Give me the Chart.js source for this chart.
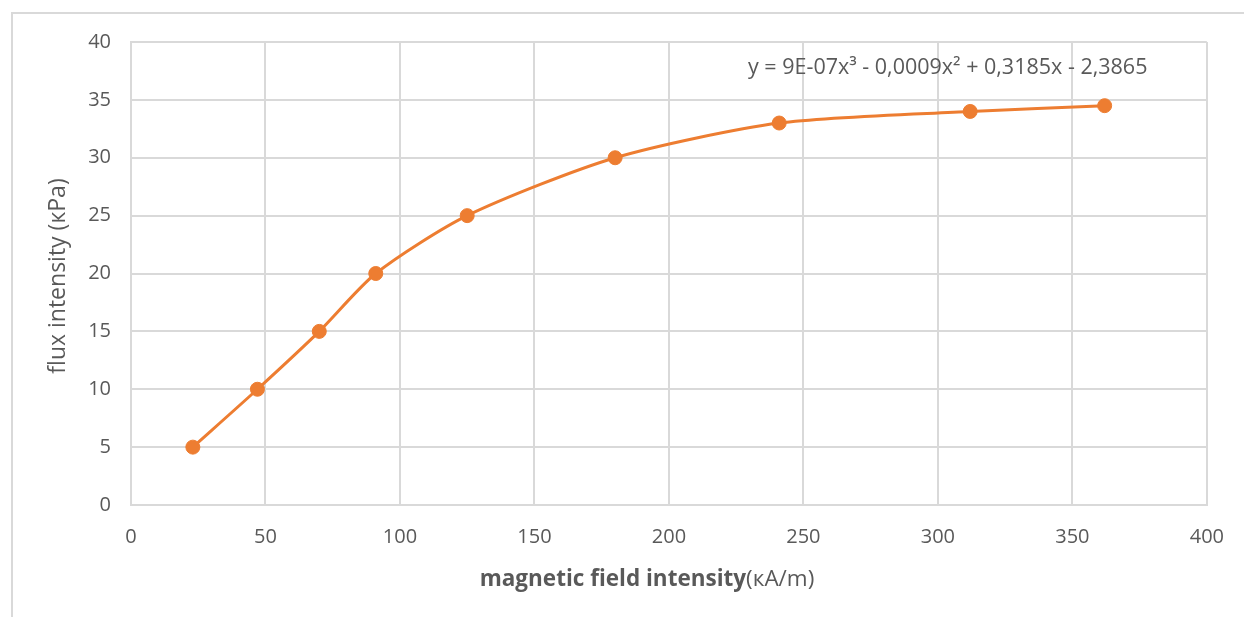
<!DOCTYPE html>
<html>
<head>
<meta charset="utf-8">
<script src="https://cdn.jsdelivr.net/npm/chart.js@4.4.1/dist/chart.umd.min.js"></script>
<style>
  html, body { margin: 0; padding: 0; background: #fff; }
  #wrap { width: 1244px; height: 617px; }
</style>
</head>
<body>
<div id="wrap"><canvas id="chart" width="1244" height="617"></canvas></div>
<script>
// field intensity (kA/m) vs flux intensity (kPa)
const fieldValues = [23, 47, 70, 91, 125, 180, 241, 312, 362];
const fluxValues = [5, 10, 15, 20, 25, 30, 33, 34, 34.5];
const xTicks = [0, 50, 100, 150, 200, 250, 300, 350, 400];
const yTicks = [0, 5, 10, 15, 20, 25, 30, 35, 40];
const equationText = 'y = 9E-07x³ - 0,0009x² + 0,3185x - 2,3865';
const xTitleBold = 'magnetic field intensity';
const xTitleRest = '(кA/m)';
const yTitle = 'flux intensity (кPa)';

const ORANGE = '#ED7D31';
const GRID = '#d9d9d9';
const TEXT = '#595959';
const FONT = '"Open Sans", sans-serif';

const points = fieldValues.map((x, i) => ({ x: x, y: fluxValues[i] }));

// frame, titles and equation label
const decorations = {
    id: 'decorations',
    beforeDraw(chart) {
        const ctx = chart.ctx;
        ctx.save();
        ctx.strokeStyle = GRID;
        ctx.lineWidth = 2;
        ctx.strokeRect(12, 13, 1244, 617);
        ctx.restore();
    },
    afterDraw(chart) {
        const ctx = chart.ctx;
        ctx.save();
        ctx.fillStyle = TEXT;
        ctx.textBaseline = 'middle';

        // x title, bold part + normal part
        ctx.font = 'bold 22.5px ' + FONT;
        const w1 = ctx.measureText(xTitleBold).width;
        ctx.font = '22.5px ' + FONT;
        const w2 = ctx.measureText(xTitleRest).width;
        let xs = 647 - (w1 + w2) / 2;
        ctx.textAlign = 'left';
        ctx.font = 'bold 22.5px ' + FONT;
        ctx.fillText(xTitleBold, xs, 580);
        ctx.font = '22.5px ' + FONT;
        ctx.fillText(xTitleRest, xs + w1, 580);

        // y title
        ctx.translate(58, 276);
        ctx.rotate(-Math.PI / 2);
        ctx.textAlign = 'center';
        ctx.font = '23px ' + FONT;
        ctx.fillText(yTitle, 0, 0);
        ctx.restore();

        // trendline equation
        ctx.save();
        ctx.fillStyle = TEXT;
        ctx.font = '21.5px ' + FONT;
        ctx.textAlign = 'left';
        ctx.textBaseline = 'middle';
        ctx.fillText(equationText, 748, 68);
        ctx.restore();
    }
};

new Chart(document.getElementById('chart'), {
    type: 'scatter',
    data: {
        datasets: [
            {
                label: 'trend',
                data: points,
                showLine: true,
                borderColor: ORANGE,
                borderWidth: 3,
                pointRadius: 0,
                tension: 0.25,
                order: 2
            },
            {
                label: 'flux',
                data: points,
                showLine: false,
                backgroundColor: ORANGE,
                borderColor: ORANGE,
                pointRadius: 7,
                order: 1
            }
        ]
    },
    plugins: [decorations],
    options: {
        responsive: false,
        animation: false,
        layout: { padding: { left: 0, right: 37, top: 42, bottom: 0 } },
        plugins: {
            legend: { display: false },
            tooltip: { enabled: false }
        },
        scales: {
            x: {
                type: 'linear',
                min: 0,
                max: 400,
                afterBuildTicks: s => { s.ticks = xTicks.map(v => ({ value: v })); },
                afterFit: s => { s.height = 617 - 505; },
                grid: { color: GRID, lineWidth: 2, drawTicks: false },
                border: { color: GRID, width: 2 },
                ticks: { color: TEXT, font: { family: FONT, size: 20 }, padding: 20, maxRotation: 0 }
            },
            y: {
                type: 'linear',
                min: 0,
                max: 40,
                afterBuildTicks: s => { s.ticks = yTicks.map(v => ({ value: v })); },
                afterFit: s => { s.width = 131; },
                grid: { color: GRID, lineWidth: 2, drawTicks: false },
                border: { color: GRID, width: 2 },
                ticks: { color: TEXT, font: { family: FONT, size: 20 }, padding: 20 }
            }
        }
    }
});
</script>
</body>
</html>
